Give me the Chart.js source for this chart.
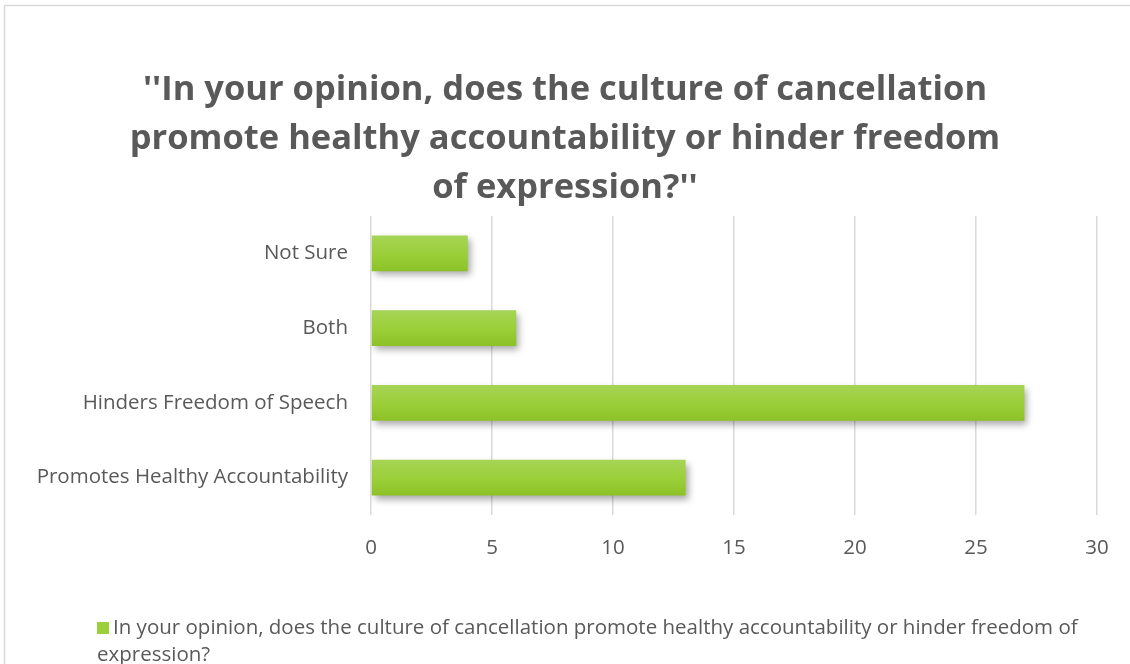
<!DOCTYPE html>
<html>
<head>
<meta charset="utf-8">
<title>Cancel culture survey</title>
<script src="https://cdn.jsdelivr.net/npm/chart.js@4.4.1/dist/chart.umd.min.js"></script>
<style>
  html, body { margin: 0; padding: 0; background: #fff; }
</style>
</head>
<body>
<canvas id="bar_chart" width="1130" height="664"></canvas>
<script>
// answers, listed top to bottom
const labels = ['Not Sure', 'Both', 'Hinders Freedom of Speech', 'Promotes Healthy Accountability']
const values = [4, 6, 27, 13]
const series_name = 'In your opinion, does the culture of cancellation promote healthy accountability or hinder freedom of expression?'
const title_lines = ["''In your opinion, does the culture of cancellation", 'promote healthy accountability or hinder freedom', "of expression?''"]
const x_ticks = [0, 5, 10, 15, 20, 25, 30]

const text_color = '#595959'
const green = '#9bd03a'
const font_family = '"Open Sans", Lato, sans-serif'

/**
 * vertical gradient for each bar, built from the y scale
 */
function barFill(context){
    const chart = context.chart
    const yScale = chart.scales.y
    if (!yScale || !chart.chartArea) return green
    const mid = yScale.getPixelForValue(context.dataIndex)
    const half = yScale.height / labels.length * 0.48 / 2
    const g = chart.ctx.createLinearGradient(0, mid - half, 0, mid + half)
    g.addColorStop(0, '#a6d456')
    g.addColorStop(0.5, '#9bd03a')
    g.addColorStop(1, '#8cc226')
    return g
}

// white page with the thin grey frame
const framePlugin = {
    id: 'frame',
    beforeDraw(chart){
        const ctx = chart.ctx
        ctx.save()
        ctx.fillStyle = '#fff'
        ctx.fillRect(0, 0, chart.width, chart.height)
        ctx.strokeStyle = '#d9d9d9'
        ctx.lineWidth = 1.5
        ctx.strokeRect(4.5, 5.5, chart.width + 10, chart.height + 10)
        ctx.restore()
    }
}

// soft drop shadow under the bars
const shadowPlugin = {
    id: 'barShadow',
    beforeDatasetsDraw(chart){
        const ctx = chart.ctx
        ctx.save()
        ctx.shadowColor = 'rgba(0,0,0,0.35)'
        ctx.shadowBlur = 7
        ctx.shadowOffsetX = 3
        ctx.shadowOffsetY = 4
    },
    afterDatasetsDraw(chart){
        chart.ctx.restore()
    }
}

// three line bold heading
const headingPlugin = {
    id: 'heading',
    afterDraw(chart){
        const ctx = chart.ctx
        ctx.save()
        ctx.fillStyle = text_color
        ctx.font = 'bold 34.5px ' + font_family
        ctx.textAlign = 'center'
        ctx.textBaseline = 'middle'
        title_lines.forEach(function(line, i){
            ctx.fillText(line, chart.width / 2, 90 + i * 49)
        })
        ctx.restore()
    }
}

// legend below the axis, wrapped onto two lines
const wrapLegendPlugin = {
    id: 'wrapLegend',
    afterDraw(chart){
        const ctx = chart.ctx
        const ds = chart.data.datasets[0]
        ctx.save()
        ctx.font = '20.5px ' + font_family
        ctx.textBaseline = 'middle'
        const maxRight = 1100
        const words = ds.label.split(' ')
        let lines = []
        let line = ''
        let x0 = 113
        words.forEach(function(w){
            const test = line ? line + ' ' + w : w
            if (ctx.measureText(test).width > maxRight - x0 && line){
                lines.push(line)
                line = w
                x0 = 97
            } else {
                line = test
            }
        })
        lines.push(line)
        ctx.fillStyle = green
        ctx.fillRect(97, 622, 12, 12)
        ctx.fillStyle = text_color
        lines.forEach(function(l, i){
            ctx.fillText(l, i === 0 ? 113 : 97, 628 + i * 27)
        })
        ctx.restore()
    }
}

const barChart = new Chart(document.getElementById('bar_chart').getContext('2d'), {
    type: 'bar',
    data: {
        labels: labels,
        datasets: [{
            label: series_name,
            data: values,
            backgroundColor: barFill,
            borderWidth: 0,
            barPercentage: 0.48,
            categoryPercentage: 1
        }]
    },
    options: {
        indexAxis: 'y',
        responsive: false,
        animation: false,
        devicePixelRatio: 1,
        layout: { padding: { top: 216, right: 33, bottom: 0, left: 0 } },
        plugins: {
            legend: { display: false },
            title: { display: false },
            tooltip: { enabled: false }
        },
        scales: {
            x: {
                min: x_ticks[0],
                max: x_ticks[x_ticks.length - 1],
                ticks: {
                    stepSize: x_ticks[1] - x_ticks[0],
                    padding: 21,
                    color: text_color,
                    font: { family: font_family, size: 20.5 }
                },
                grid: { color: '#d9d9d9', lineWidth: 1.5, drawTicks: false },
                border: { display: false },
                afterFit: function(s){ s.height = 149 }
            },
            y: {
                ticks: {
                    padding: 23,
                    color: text_color,
                    font: { family: font_family, size: 20.5 }
                },
                grid: { display: false, drawTicks: false },
                border: { display: false },
                afterFit: function(s){ s.width = 371 }
            }
        }
    },
    plugins: [framePlugin, shadowPlugin, headingPlugin, wrapLegendPlugin]
})
</script>
</body>
</html>
